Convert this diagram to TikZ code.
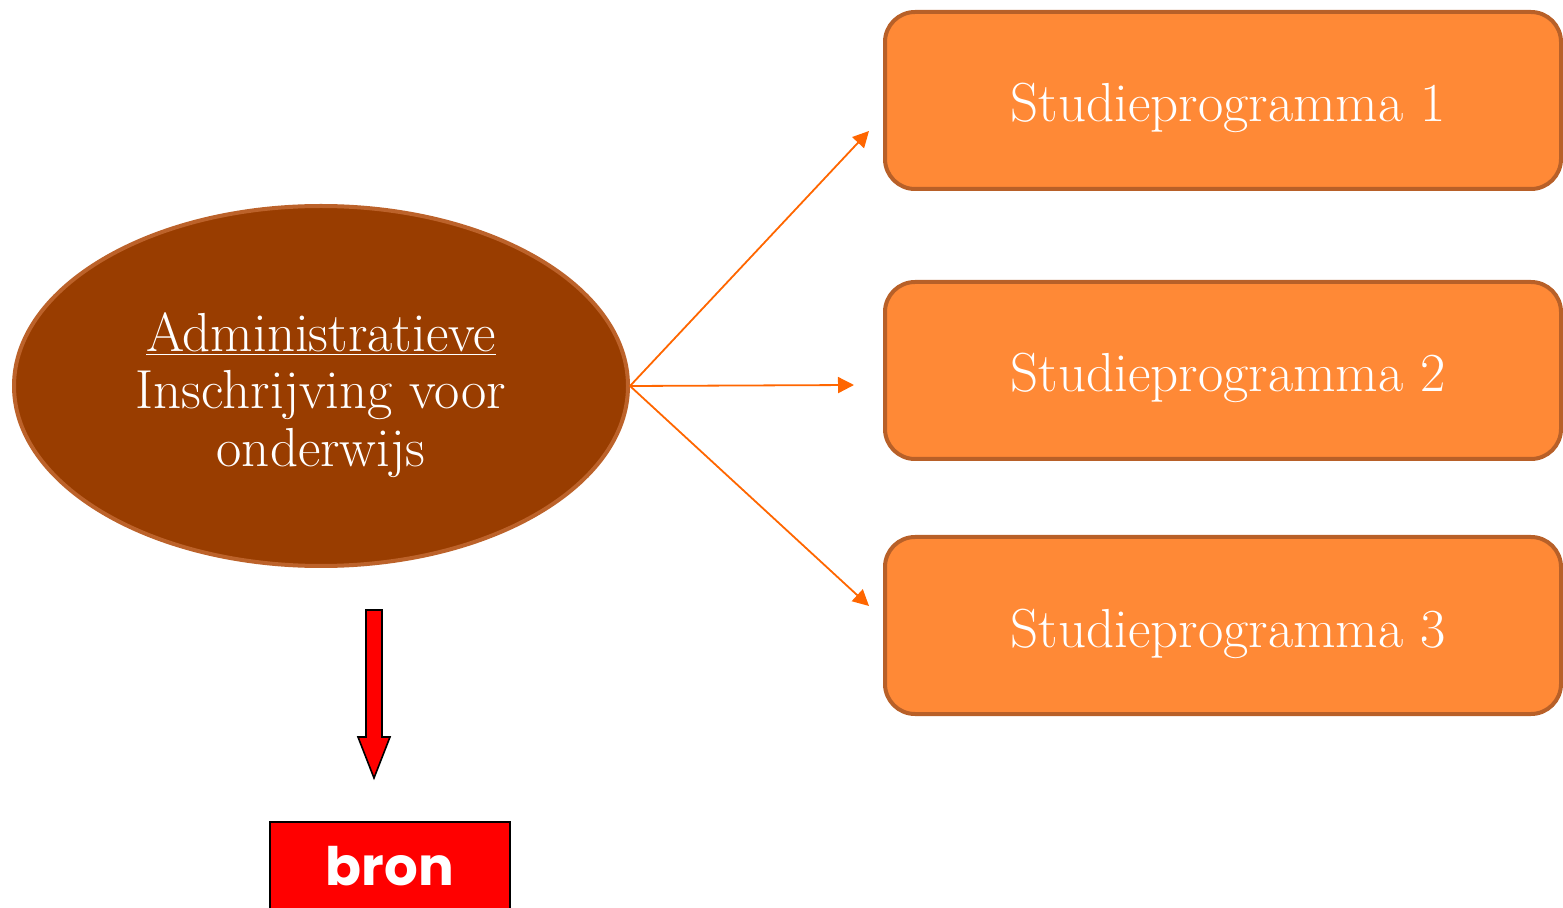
\documentclass[tikz,border=0pt]{standalone}
\usepackage{fontspec}
\newfontfamily\bronfont{Poppins}
\usetikzlibrary{shapes.geometric,arrows.meta}
\definecolor{ellfill}{RGB}{153,61,0}
\definecolor{ellline}{RGB}{188,98,42}
\definecolor{boxfill}{RGB}{255,137,54}
\definecolor{boxline}{RGB}{184,96,40}
\definecolor{arrorange}{RGB}{255,102,0}
\definecolor{bronred}{RGB}{255,0,0}
\tikzset{
  mainell/.style={ellipse, draw=ellline, fill=ellfill, line width=2pt, inner sep=0pt,
    minimum width=307pt, minimum height=180pt},
  elltext/.style={text=white, align=center, inner sep=0pt,
    font=\fontsize{27.5}{28.8}\selectfont},
  progbox/.style={rectangle, rounded corners=15pt, draw=boxline, fill=boxfill, line width=2pt,
    minimum width=338pt, minimum height=88.5pt, text=white, text height=23pt, text depth=1.5pt,
    font=\fontsize{27.5}{30}\selectfont},
  conn/.style={draw=arrorange, line width=0.9pt, -{Triangle[length=8pt,width=8pt]}},
  bronbox/.style={rectangle, draw=black, fill=bronred, line width=1pt,
    minimum width=120pt, minimum height=59pt, text=white, text height=4pt, text depth=0pt,
    font=\bronfont\bfseries\fontsize{26.5}{30}\selectfont},
  blockarrow/.style={draw=black, fill=bronred, line width=0.8pt, line join=miter}
}
\begin{document}
\begin{tikzpicture}[x=0.5pt,y=-0.5pt]
\useasboundingbox (0,0) rectangle (1563,908);
\clip (0,0) rectangle (1563,908);
\node[mainell, label={[elltext, yshift=-4.5pt]center:\underline{Administratieve}\\Inschrijving voor\\onderwijs}] (adm) at (321,386) {};
\node[progbox] (p1) at (1223,100.5) {\hspace*{5pt}Studieprogramma 1};
\node[progbox] (p2) at (1223,370.5) {\hspace*{5pt}Studieprogramma 2};
\node[progbox] (p3) at (1223,625.5) {\hspace*{5pt}Studieprogramma 3};
\coordinate (e1) at (869,131);
\coordinate (e2) at (854,385);
\coordinate (e3) at (869,606);
\draw[conn] (adm.east) -- (e1);
\draw[conn] (adm.east) -- (e2);
\draw[conn] (adm.east) -- (e3);
\draw[blockarrow] (366,610) -- (382,610) -- (382,737) -- (390,737) -- (374,778) -- (358,737) -- (366,737) -- cycle;
\node[bronbox, anchor=base] (bron) at (390,885) {bron};
\end{tikzpicture}
\end{document}
